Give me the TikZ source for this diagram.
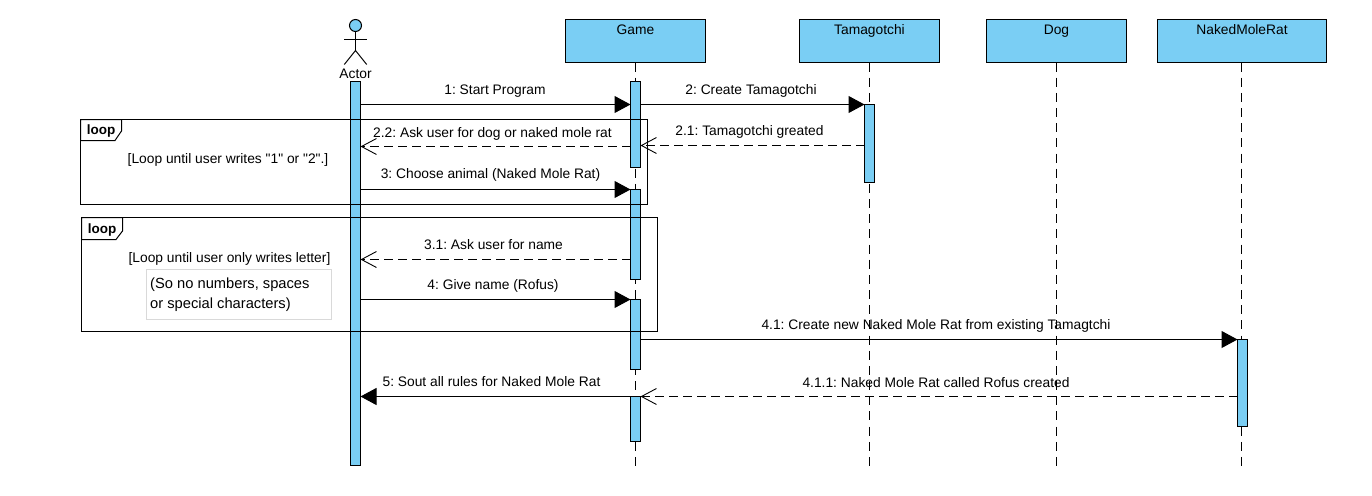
\documentclass[tikz,border=0pt]{standalone}
\usepackage{fontspec}
\setmainfont{Liberation Sans}[Ligatures=TeXOff]
\usetikzlibrary{arrows.meta}
\definecolor{lifeblue}{HTML}{7ACEF4}
\tikzset{
	every node/.append style={execute at begin node=\frenchspacing},
	lifebox/.style={draw=black, fill=lifeblue, line width=1pt, inner xsep=0pt, inner ysep=0pt, outer sep=0pt, minimum width=140pt, anchor=north west, text height=15pt, text depth=28pt, font=\fontsize{13.8}{16}\selectfont},
	barstyle/.style={draw=black, fill=lifeblue, line width=1pt, inner sep=0pt, outer sep=0pt, minimum width=10pt},
	lifeline/.style={line width=1pt, dash pattern=on 9pt off 6.17pt},
	framestyle/.style={draw=black, line width=1pt, inner sep=0pt, outer sep=0pt, anchor=north west},
	tagtext/.style={font=\bfseries\fontsize{13.5}{15}\selectfont, inner sep=0pt, anchor=base},
	msglabel/.style={font=\fontsize{13.8}{16}\selectfont, inner sep=0pt, anchor=base},
	callmsg/.style={line width=1pt, -{Triangle[length=16pt,width=17pt]}},
	replymsg/.style={line width=1pt, dash pattern=on 9pt off 5pt, -{Straight Barb[length=15pt,width=16pt,line width=.9pt]}}
}
\begin{document}
\begin{tikzpicture}[x=1pt, y=-1pt]
	\useasboundingbox (0,0) rectangle (1372,495);
	% lifeline heads
	\node[lifebox] (game) at (565.5,19.5) {Game};
	\node[lifebox] (tama) at (799.5,19.5) {Tamagotchi};
	\node[lifebox] (dog) at (986.5,19.5) {Dog};
	\node[lifebox, minimum width=169pt] (rat) at (1157.5,19.5) {NakedMoleRat};
	\coordinate (gameEnd) at (635.5,466);
	\coordinate (tamaEnd) at (869.5,466);
	\coordinate (dogEnd) at (1056.5,466);
	\coordinate (ratTop) at (1241.5,62.5);
	\coordinate (ratEnd) at (1241.5,466);
	\draw[lifeline] (game.south) -- (gameEnd);
	\draw[lifeline] (tama.south) -- (tamaEnd);
	\draw[lifeline] (dog.south) -- (dogEnd);
	\draw[lifeline] (ratTop) -- (ratEnd);
	% actor
	\node[circle, draw=black, fill=lifeblue, line width=1pt, inner sep=0pt, minimum size=12pt] (head) at (355.5,25.5) {};
	\coordinate (hip) at (355.5,50.5);
	\coordinate (armL) at (344.3,39.5);
	\coordinate (armR) at (366.7,39.5);
	\coordinate (legL) at (344.3,64.5);
	\coordinate (legR) at (366.7,64.5);
	\draw[line width=1pt] (head) -- (hip);
	\draw[line width=1pt] (armL) -- (armR);
	\draw[line width=1pt] (legL) -- (hip) -- (legR);
	\node[msglabel] (actor) at (355.5,78) {Actor};
	% activation bars
	\node[barstyle, minimum height=384pt] (barActor) at (355.5,273.5) {};
	\node[barstyle, minimum height=86pt] (barGameA) at (635.5,124.5) {};
	\node[barstyle, minimum height=90pt] (barGameB) at (635.5,234.5) {};
	\node[barstyle, minimum height=70pt] (barGameC) at (635.5,334.5) {};
	\node[barstyle, minimum height=45pt] (barGameD) at (635.5,419) {};
	\node[barstyle, minimum height=78pt] (barTama) at (869.5,143.5) {};
	\node[barstyle, minimum height=87pt] (barRat) at (1242.5,383) {};
	% loop frames
	\node[framestyle, minimum width=567pt, minimum height=85pt] (loopA) at (80.5,119.5) {};
	\node[framestyle, minimum width=576pt, minimum height=114pt] (loopB) at (81.5,217.5) {};
	\draw[line width=1pt, fill=white] (80.5,119.5) -- (121.5,119.5) -- (121.5,131) -- (115,140.5) -- (80.5,140.5) -- cycle;
	\draw[line width=1pt, fill=white] (81.5,217.5) -- (122.5,217.5) -- (122.5,231) -- (116,239.5) -- (81.5,239.5) -- cycle;
	\node[tagtext] (tagA) at (101,134) {loop};
	\node[tagtext] (tagB) at (102,233) {loop};
	\node[msglabel] (guardA) at (228,163) {[Loop until user writes "1" or "2".]};
	\node[msglabel] (guardB) at (229.5,262) {[Loop until user only writes letter]};
	\node[draw=black!15, line width=1pt, inner sep=0pt, outer sep=0pt, minimum width=185pt, minimum height=50pt, anchor=north west] (note) at (146.5,269.5) {};
	\node[msglabel, anchor=west, align=left, font=\fontsize{14.7}{20}\selectfont] (noteText) at (150,294.5) {(So no numbers, spaces\\or special characters)};
	% messages
	\draw[callmsg] (barActor.east |- 0,104.5) -- (barGameA.west |- 0,104.5);
	\draw[callmsg] (barGameA.east |- 0,104.5) -- (barTama.west |- 0,104.5);
	\draw[replymsg] (barTama.west |- 0,145.5) -- (barGameA.east |- 0,145.5);
	\draw[replymsg] (barGameA.west |- 0,146.5) -- (barActor.east |- 0,146.5);
	\draw[callmsg] (barActor.east |- 0,189.5) -- (barGameB.west |- 0,189.5);
	\draw[replymsg] (barGameB.west |- 0,259.5) -- (barActor.east |- 0,259.5);
	\draw[callmsg] (barActor.east |- 0,299.5) -- (barGameC.west |- 0,299.5);
	\draw[callmsg] (barGameC.east |- 0,339.5) -- (barRat.west |- 0,339.5);
	\draw[replymsg] (barRat.west |- 0,396.5) -- (barGameD.east |- 0,396.5);
	\draw[callmsg] (barGameD.west |- 0,396.5) -- (barActor.east |- 0,396.5);
	% message labels
	\node[msglabel] (m1) at (495,94) {1: Start Program};
	\node[msglabel] (m2) at (751,94) {2: Create Tamagotchi};
	\node[msglabel] (m21) at (749.5,135) {2.1: Tamagotchi greated};
	\node[msglabel] (m22) at (492.5,137) {2.2: Ask user for dog or naked mole rat};
	\node[msglabel] (m3) at (490.5,178) {3: Choose animal (Naked Mole Rat)};
	\node[msglabel] (m31) at (493.5,249) {3.1: Ask user for name};
	\node[msglabel] (m4) at (493,289) {4: Give name (Rofus)};
	\node[msglabel] (m41) at (936,329) {4.1: Create new Naked Mole Rat from existing Tamagtchi};
	\node[msglabel] (m411) at (936,387) {4.1.1: Naked Mole Rat called Rofus created};
	\node[msglabel] (m5) at (491.5,386.5) {5: Sout all rules for Naked Mole Rat};
\end{tikzpicture}
\end{document}
